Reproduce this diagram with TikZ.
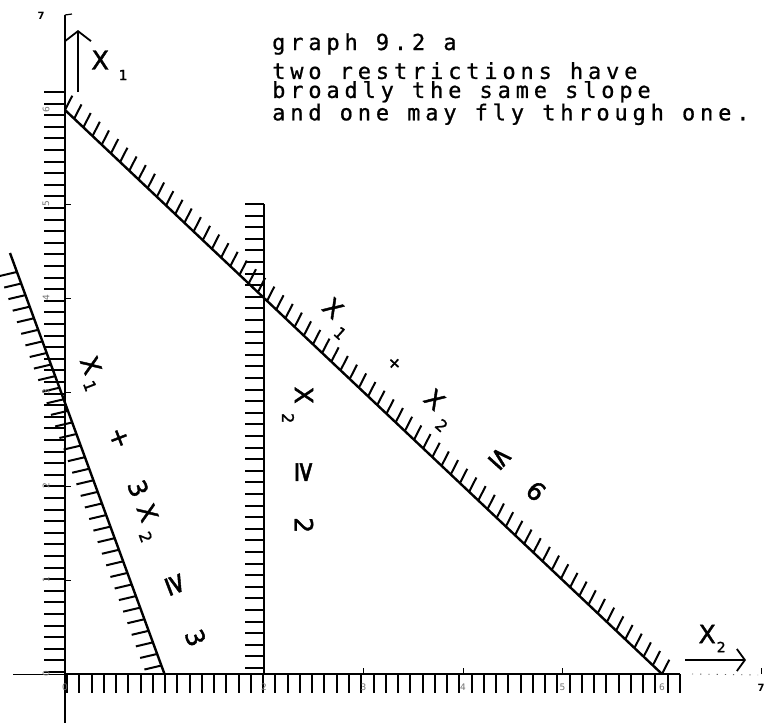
\documentclass[tikz,border=0pt]{standalone}
\usepackage{fontspec}
\setmainfont{DejaVu Sans}
\newfontfamily\plotfont[FakeBold=1.5]{DejaVu Sans}
\newfontfamily\plotmono[LetterSpace=22,FakeBold=0.8]{DejaVu Sans Mono}
\usetikzlibrary{arrows.meta,calc}
\newcommand\gl[2][0pt]{\makebox[0pt]{\raisebox{-#1}{\raisebox{-0.5\height}{#2}}}}
\newcommand\sbs[1]{{\fontsize{16}{16}\selectfont #1}}
\newcommand\rel[1]{{\fontsize{28}{28}\selectfont #1}}
\begin{document}
\begin{tikzpicture}[x=1pt,y=-1pt,
  lbl/.style={font=\plotfont\fontsize{25}{25}\selectfont, inner sep=0pt, anchor=base west},
  axisline/.style={line width=2.2pt},
  constr/.style={line width=2.4pt},
  hatch/.style={line width=2pt},
  smalltick/.style={line width=0.8pt},
  faintnum/.style={font=\fontsize{9}{9}\selectfont, text=black!55, inner sep=0pt},
  blacknum/.style={font=\fontsize{10}{10}\selectfont\bfseries, inner sep=0pt},
  txt/.style={font=\plotmono\fontsize{22}{19}\selectfont, inner sep=0pt, align=left}]
\useasboundingbox (0,0) rectangle (764,724);
\fill[white] (0,0) rectangle (764,724);
% coordinates
\coordinate (O) at (65,674);
\coordinate (ytop) at (65,15);
\coordinate (ybot) at (65,723);
\coordinate (xleft) at (13,674);
\coordinate (xend) at (680,674);
\coordinate (xdots) at (758,675);
\coordinate (p6a) at (65,110);
\coordinate (p6b) at (662,674);
\coordinate (p3a) at (10,253);
\coordinate (p3b) at (164.5,674);
\coordinate (p2a) at (264,204);
\coordinate (p2b) at (264,674);
\coordinate (p2h) at (264,668);
\coordinate (va) at (65,92);
\coordinate (vb) at (65,672);
\coordinate (ha) at (67,674);
\coordinate (hb) at (680,674);
\coordinate (x1s) at (78,92);
\coordinate (x1e) at (78,30);
\coordinate (x2s) at (685,660);
\coordinate (x2e) at (746,660);
% hatches
\foreach \i in {0,...,50} \draw[hatch] ($(va)!\i/50!(vb)$) -- ++(-21,0);
\foreach \i in {0,...,50} \draw[hatch] ($(ha)!\i/50!(hb)$) -- ++(0,19);
\foreach \i in {0,...,40} \draw[hatch] ($(p2a)!\i/40!(p2h)$) -- ++(-19,0);
\foreach \i in {0,...,65} \draw[hatch] ($(p6a)!\i/65!(p6b)$) -- ++(7.3,-14.3);
\foreach \i in {0,...,34} \draw[hatch] ($(p3a)!{0.045+\i*0.0275}!(p3b)$) -- ++(-17,4);
% axes
\draw[axisline] (ytop) -- (O);
\draw[line width=1.2pt] (O) -- (ybot);
\draw[axisline] (O) -- (xend);
\draw[line width=0.6pt] (xleft) -- (O);
\draw[line width=0.9pt, black!60, dash pattern=on 1.2pt off 7pt] (xend) ++(12,0) -- (xdots);
\draw[line width=1.2pt] (ytop) -- ++(7,-1);
% small integer ticks
\foreach \yy in {204,298,392,486,580} \draw[smalltick] (65,\yy) -- ++(6,0);
\foreach \xx in {363.5,463,562.5,761.5} \draw[smalltick] (\xx,674) -- ++(0,-6);
% constraints
\draw[constr] (p6a) -- (p6b);
\draw[constr] (p3a) -- (p3b);
\draw[constr] (p2a) -- (p2b);
% axis arrows
\draw[line width=1.8pt, -{Straight Barb[length=10pt,width=26pt]}] (x1s) -- (x1e);
\draw[line width=1.8pt, -{Straight Barb[length=8pt,width=22pt]}] (x2s) -- (x2e);
% axis labels
\node[lbl, font=\plotfont\fontsize{26}{26}\selectfont] (x1lab) at (100,60) {\gl{X}\hspace{23pt}\gl[15pt]{\fontsize{14}{14}\selectfont 1}};
\node[lbl] (x2lab) at (707,634) {\gl{X}\hspace{14pt}\gl[13pt]{\fontsize{14}{14}\selectfont 2}};
% tick numbers
\node[blacknum] (n7y) at (41,16) {7};
\node[blacknum] (n7x) at (761,688) {7};
\foreach \v/\yy in {0/674,1/580,2/486,3/392,4/298,5/204,6/110}
  \node[faintnum, rotate=90] (ny\v) at (46,\yy) {\v};
\foreach \v/\xx in {0/65,2/264,3/363.5,4/463,5/562.5,6/662}
  \node[faintnum] (nx\v) at (\xx,687) {\v};
% constraint labels
\node[lbl, rotate=-69] (lab3) at (91,365) {\gl{X}\hspace{19pt}\gl[8.5pt]{\sbs{1}}\hspace{59pt}\gl{+}\hspace{54pt}\gl{3}\hspace{26pt}\gl{X}\hspace{22pt}\gl[10.5pt]{\sbs{2}}\hspace{55pt}\gl{\rel{≥}}\hspace{57pt}\gl{3}};
\node[lbl, rotate=-90] (lab2) at (304,395) {\gl{X}\hspace{23pt}\gl[16pt]{\sbs{2}}\hspace{54pt}\gl{\rel{≥}}\hspace{53pt}\gl{2}};
\node[lbl, rotate=-42] (lab6) at (333,308) {\gl{X}\hspace{22pt}\gl[14pt]{\sbs{1}}\hspace{60.6pt}\gl{\fontsize{17}{17}\selectfont +}\hspace{54pt}\gl{X}\hspace{22.6pt}\gl[14.6pt]{\sbs{2}}\hspace{65pt}\gl{\rel{≤}}\hspace{49pt}\gl{6}};
% text
\node[txt, anchor=base west] (title) at (272,50) {graph 9.2 a};
\node[txt, anchor=north west] (note) at (272,62) {two restrictions have\\broadly the same slope\\and one may fly through one.};
\end{tikzpicture}
\end{document}
